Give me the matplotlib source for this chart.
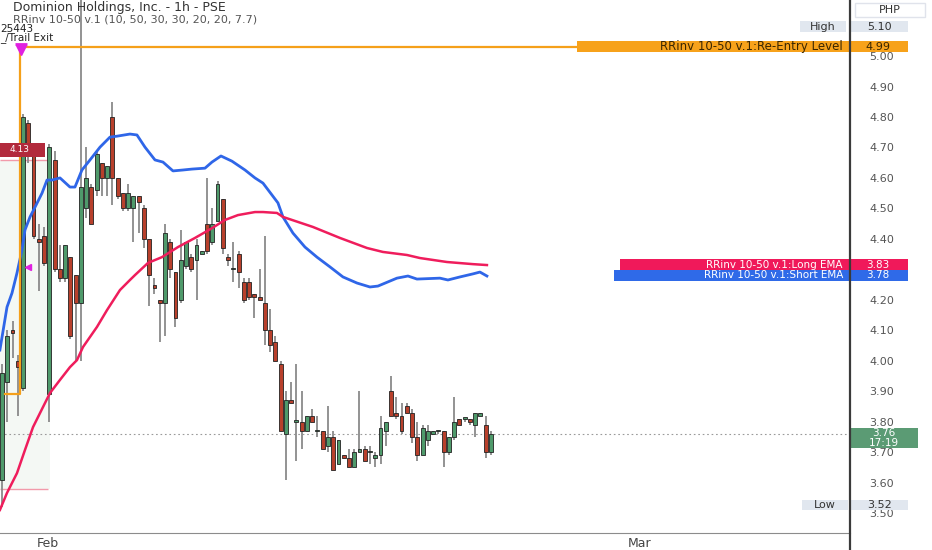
import matplotlib
matplotlib.use("Agg")
import matplotlib.pyplot as plt
from matplotlib.patches import Rectangle
from matplotlib.lines import Line2D

# hourly candles
opens = [3.61, 3.93, 4.10, 4.00, 3.91, 4.78, 4.69, 4.40, 4.41, 3.89,
         4.66, 4.30, 4.27, 4.34, 4.28, 4.19, 4.50, 4.57, 4.56, 4.65,
         4.60, 4.80, 4.60, 4.55, 4.50, 4.50, 4.54, 4.50, 4.40, 4.25,
         4.20, 4.19, 4.39, 4.29, 4.20, 4.31, 4.34, 4.33, 4.35, 4.45,
         4.39, 4.46, 4.53, 4.34, 4.30, 4.35, 4.26, 4.26, 4.22, 4.21,
         4.19, 4.10, 4.06, 3.99, 3.76, 3.87, 3.80, 3.80, 3.77, 3.82,
         3.77, 3.77, 3.72, 3.75, 3.66, 3.69, 3.68, 3.65, 3.70, 3.71,
         3.70, 3.68, 3.69, 3.77, 3.90, 3.83, 3.82, 3.85, 3.83, 3.75,
         3.69, 3.74, 3.76, 3.77, 3.77, 3.70, 3.75, 3.81, 3.81, 3.81,
         3.79, 3.82, 3.79, 3.70]
highs = [3.99, 4.10, 4.13, 4.02, 4.81, 4.79, 4.70, 4.45, 4.44, 4.71,
         4.69, 4.38, 4.38, 4.34, 4.28, 5.25, 4.70, 4.58, 4.69, 4.65,
         4.64, 4.85, 4.60, 4.55, 4.58, 4.54, 4.54, 4.51, 4.40, 4.27,
         4.20, 4.45, 4.40, 4.29, 4.43, 4.39, 4.35, 4.40, 4.36, 4.60,
         4.50, 4.59, 4.53, 4.35, 4.39, 4.36, 4.27, 4.27, 4.22, 4.30,
         4.41, 4.17, 4.08, 4.00, 3.90, 3.93, 3.99, 3.90, 3.82, 3.84,
         3.82, 3.77, 3.85, 3.77, 3.74, 3.69, 3.71, 3.71, 3.90, 3.72,
         3.72, 3.70, 3.82, 3.80, 3.95, 3.88, 3.86, 3.86, 3.84, 3.80,
         3.79, 3.79, 3.77, 3.77, 3.77, 3.75, 3.88, 3.81, 3.81, 3.81,
         3.83, 3.83, 3.82, 3.77]
lows = [3.52, 3.80, 4.01, 3.82, 3.90, 4.65, 4.40, 4.23, 4.31, 3.80,
        4.29, 4.26, 4.26, 4.07, 4.00, 4.00, 4.47, 4.45, 4.54, 4.54,
        4.54, 4.51, 4.53, 4.49, 4.49, 4.39, 4.42, 4.37, 4.18, 4.22,
        4.06, 4.08, 4.27, 4.11, 4.19, 4.30, 4.29, 4.20, 4.35, 4.35,
        4.38, 4.46, 4.35, 4.31, 4.26, 4.24, 4.19, 4.20, 4.14, 4.20,
        4.05, 4.03, 4.00, 3.77, 3.61, 3.86, 3.67, 3.71, 3.77, 3.80,
        3.75, 3.71, 3.70, 3.64, 3.66, 3.68, 3.65, 3.65, 3.70, 3.67,
        3.66, 3.65, 3.66, 3.72, 3.82, 3.81, 3.76, 3.83, 3.73, 3.67,
        3.69, 3.72, 3.76, 3.76, 3.65, 3.69, 3.74, 3.79, 3.80, 3.79,
        3.75, 3.82, 3.68, 3.69]
closes = [3.96, 4.08, 4.09, 3.98, 4.80, 4.70, 4.41, 4.39, 4.32, 4.70,
          4.30, 4.27, 4.38, 4.08, 4.19, 4.57, 4.60, 4.45, 4.68, 4.60,
          4.64, 4.60, 4.54, 4.50, 4.55, 4.54, 4.52, 4.40, 4.28, 4.24,
          4.19, 4.42, 4.30, 4.14, 4.33, 4.39, 4.30, 4.38, 4.36, 4.36,
          4.45, 4.58, 4.37, 4.33, 4.30, 4.29, 4.20, 4.21, 4.21, 4.20,
          4.10, 4.05, 4.00, 3.77, 3.87, 3.86, 3.80, 3.77, 3.82, 3.80,
          3.77, 3.71, 3.75, 3.64, 3.74, 3.68, 3.65, 3.70, 3.71, 3.67,
          3.70, 3.69, 3.78, 3.80, 3.82, 3.82, 3.77, 3.83, 3.75, 3.69,
          3.78, 3.77, 3.77, 3.77, 3.70, 3.75, 3.80, 3.79, 3.81, 3.80,
          3.83, 3.83, 3.70, 3.76]

# indicator lines (bar, value)
short_ema_bar = [-0.4, 0.95, 1.9, 2.85, 3.8, 4.37, 5.33, 6.28, 7.61, 8.56, 9.51,
                 11.03, 12.93, 13.88, 15.21, 16.74, 18.64, 20.54, 21.87, 24.34,
                 25.67, 27.2, 29.1, 30.62, 32.52, 34.42, 36.13, 38.61, 39.94,
                 41.65, 43.74, 46.22, 48.12, 49.64, 51.35, 52.49, 53.44, 55.34,
                 57.63, 59.91, 62.38, 64.85, 67.52, 69.99, 71.51, 75.12, 77.22,
                 78.93, 83.3, 84.82, 87.11, 89.58, 90.91, 92.24]
short_ema_val = [4.035, 4.176, 4.222, 4.288, 4.363, 4.429, 4.472, 4.504, 4.550,
                 4.593, 4.593, 4.600, 4.570, 4.570, 4.626, 4.659, 4.701, 4.734,
                 4.737, 4.744, 4.741, 4.701, 4.659, 4.652, 4.623, 4.626, 4.629,
                 4.632, 4.652, 4.672, 4.655, 4.626, 4.600, 4.583, 4.544, 4.518,
                 4.472, 4.419, 4.373, 4.340, 4.308, 4.275, 4.255, 4.242, 4.245,
                 4.271, 4.278, 4.268, 4.271, 4.265, 4.275, 4.285, 4.291, 4.278]
long_ema_bar = [-0.4, 0.95, 2.85, 4.37, 5.9, 7.8, 9.13, 11.03, 12.93, 14.26,
                15.41, 18.07, 19.97, 22.44, 24.34, 25.29, 27.77, 30.43, 33.47,
                36.71, 39.94, 42.41, 44.88, 48.12, 49.64, 52.3, 53.44, 59.15,
                64.28, 69.42, 72.46, 77.03, 79.51, 84.63, 89.58, 92.24]
long_ema_val = [3.510, 3.566, 3.631, 3.707, 3.782, 3.848, 3.894, 3.937, 3.979,
                4.002, 4.045, 4.111, 4.166, 4.232, 4.265, 4.281, 4.321, 4.340,
                4.373, 4.403, 4.435, 4.462, 4.478, 4.488, 4.488, 4.485, 4.472,
                4.439, 4.403, 4.370, 4.357, 4.347, 4.337, 4.324, 4.317, 4.314]
trail_bar = [0.6, 3.5, 170]
trail_val = [3.89, 5.03, 5.03]

# 4.30 sits under the EMA tags, so it is left out
y_ticks = [3.5, 3.6, 3.7, 3.8, 3.9, 4.0, 4.1, 4.2, 4.4, 4.5, 4.6, 4.7, 4.8, 4.9, 5.0]
month_bars = [8.75, 121.3]
month_labels = ["Feb", "Mar"]

W, H = 932, 550
fig = plt.figure(figsize=(W / 100, H / 100), dpi=100)
plt.rcParams['font.family'] = ['DejaVu Sans']


def fx(x):
    return x / W


def fy(y):
    return 1 - y / H


ax = fig.add_axes([0, fy(533), fx(850), fy(0) - fy(533)])
ax.set_xlim(-0.38, 161.3)
ax.set_ylim(3.4345, 5.184)

# faint shaded box on the left
ax.add_patch(Rectangle((-0.38, 3.579), 9.5, 1.08, color='#eef4ee', alpha=0.6, lw=0, zorder=0))
ax.hlines([4.659, 3.579], -0.38, 8.75, color='#f29aaa', lw=1, zorder=1)

n = len(opens)
xs = list(range(n))
ax.vlines(xs, lows, highs, color='#8a8a8a', lw=1.3, zorder=2)
for i in xs:
    o, c = opens[i], closes[i]
    col = '#4f9a6b' if c >= o else '#b8402c'
    h = max(abs(c - o), 0.004)
    ax.bar(i, h, bottom=min(o, c), width=0.74, color=col, edgecolor='#222222',
           linewidth=0.6, zorder=3)

ax.plot(short_ema_bar, short_ema_val, color='#2f66e8', lw=2.0, zorder=4)
ax.plot(long_ema_bar, long_ema_val, color='#ef1d5c', lw=1.8, zorder=4)
ax.plot(trail_bar, trail_val, color='#f5a01a', lw=1.6, drawstyle='steps-post', zorder=4)

ax.plot([3.7], [5.02], marker='v', color='#e020e0', ms=7, zorder=5)
ax.plot([3.7], [5.038], marker='_', color='#e020e0', ms=9, mew=2, zorder=5)
ax.plot([4.95], [4.307], marker='<', color='#e020e0', ms=5, zorder=5)

ax.axhline(closes[-1], color='#9a9a9a', lw=0.8, ls=(0, (1.5, 2.5)), zorder=1)

ax.yaxis.tick_right()
ax.set_yticks(y_ticks)
ax.set_yticklabels(["%.2f" % v for v in y_ticks], fontsize=8, color='#555555')
ax.tick_params(axis='y', length=0, pad=14)
ax.set_xticks(month_bars)
ax.set_xticklabels(month_labels, fontsize=9, color='#444444')
ax.tick_params(axis='x', length=0, pad=3)
for s in ['top', 'left', 'right']:
    ax.spines[s].set_visible(False)
ax.spines['bottom'].set_color('#8c8c8c')

fig.add_artist(Line2D([fx(850), fx(850)], [0, 1], transform=fig.transFigure,
                      color='#3a3a3a', lw=1.6))

# legend text top-left
fig.text(fx(13), fy(7), "Dominion Holdings, Inc. - 1h - PSE", fontsize=9,
         color='#333333', va='center')
fig.text(fx(13), fy(19), "RRinv 10-50 v.1 (10, 50, 30, 30, 20, 20, 7.7)", fontsize=8,
         color='#555555', va='center')
fig.text(fx(0), fy(28.5), "25443", fontsize=7.5, color='#222222', va='center')
fig.text(fx(0), fy(38), "_/Trail Exit", fontsize=7.5, color='#222222', va='center')

# small red tag on the left
fig.add_artist(Rectangle((fx(0), fy(157)), fx(45), fy(143) - fy(157),
                         transform=fig.transFigure, color='#b22a3c', lw=0))
fig.text(fx(20), fy(150), "4.13", fontsize=6.5, color='white', va='center', ha='center')


def tag(x0, x1, y0, y1, txt, bg, fg, ha='center', size=7.5):
    fig.add_artist(Rectangle((fx(x0), fy(y1)), fx(x1 - x0), fy(y0) - fy(y1),
                             transform=fig.transFigure, facecolor=bg, edgecolor='none'))
    if txt:
        xt = (x0 + x1) / 2 if ha == 'center' else x1 - 5
        fig.text(fx(xt), fy((y0 + y1) / 2), txt, fontsize=size, color=fg,
                 ha=ha, va='center')


# price scale tags
fig.add_artist(Rectangle((fx(855), fy(17)), fx(70), fy(3) - fy(17),
                         transform=fig.transFigure, facecolor='white', edgecolor='#e0e3eb'))
fig.text(fx(890), fy(10), "PHP", fontsize=8, color='#333333', ha='center', va='center')
tag(800, 846, 21, 32, "High", '#e1e7ef', '#333333', size=8)
tag(851, 908, 21, 32, "5.10", '#e1e7ef', '#333333', size=8)
tag(577, 848, 41, 52, "RRinv 10-50 v.1:Re-Entry Level", '#f7a21b', '#3a2600', ha='right', size=8.5)
tag(848, 908, 41, 52, "4.99", '#f7a21b', '#3a2600', size=8)
tag(620, 848, 259, 270, "RRinv 10-50 v.1:Long EMA", '#f0195a', 'white', ha='right')
tag(848, 908, 259, 270, "3.83", '#f0195a', 'white')
tag(614, 848, 270, 281, "RRinv 10-50 v.1:Short EMA", '#2f6ae8', 'white', ha='right')
tag(848, 908, 270, 281, "3.78", '#2f6ae8', 'white')
tag(850, 918, 428, 448, "", '#5b9b74', 'white')
fig.text(fx(884), fy(433), "3.76", fontsize=7.5, color='white', ha='center', va='center')
fig.text(fx(884), fy(443), "17:19", fontsize=7.5, color='white', ha='center', va='center')
tag(802, 848, 500, 510, "Low", '#e1e7ef', '#333333', size=8)
tag(851, 908, 500, 510, "3.52", '#e1e7ef', '#333333', size=8)

fig.savefig("out.png", dpi=100, facecolor='white')
